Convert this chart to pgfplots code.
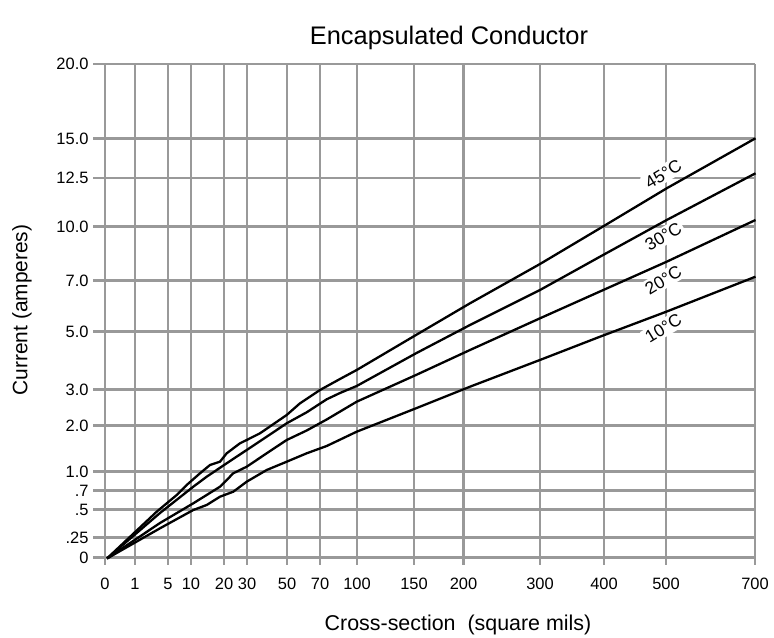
\documentclass[border=0pt]{standalone}
\usepackage{fontspec}
\setmainfont{Liberation Sans}
\usepackage{pgfplots}
\pgfplotsset{compat=1.18}
\definecolor{gridgray}{RGB}{153,153,153}
\begin{document}
\begin{tikzpicture}
\useasboundingbox (0,0) rectangle (774bp,638bp);
\node[font=\fontsize{25.5}{30}\selectfont] at (449bp,600bp) {Encapsulated Conductor};
\node[font=\fontsize{21.5}{26}\selectfont] at (458bp,13bp) {Cross-section\ \ (square mils)};
\node[font=\fontsize{21}{25}\selectfont, rotate=90] at (22bp,328bp) {Current (amperes)};
\begin{axis}[
  at={(93bp,73bp)}, anchor=south west,
  scale only axis, width=662bp, height=501bp,
  xmin=-12, xmax=650, ymin=-7.5, ymax=493.5,
  axis line style={draw=none}, tick style={draw=none},
  major tick length=0pt,
  xmajorgrids, ymajorgrids,
  major grid style={line width=2.4bp, gridgray},
  xtick={0,30,63,86,119,142,182,215,252,309,358.5,435,499,561,650},
  xticklabels={0,1,5,10,20,30,50,70,100,150,200,300,400,500,700},
  ytick={0,20,48,67,86,132,168,226,277,331,379.5,419,493.5},
  yticklabels={0,.25,.5,.7,1.0,2.0,3.0,5.0,7.0,10.0,12.5,15.0,20.0},
  ticklabel style={font=\fontsize{16.5}{19}\selectfont},
  yticklabel style={xshift=-1bp},
  xticklabel style={yshift=-10bp},
  /pgf/number format/assume math mode=true,
  clip=false,
]
\node[font=\fontsize{17.5}{20}\selectfont, rotate=31, fill=white, inner sep=2.5bp] at (axis cs:558.3,383.5) {45°C};
\node[font=\fontsize{17.5}{20}\selectfont, rotate=31, fill=white, inner sep=2.5bp] at (axis cs:558.3,320.8) {30°C};
\node[font=\fontsize{17.5}{20}\selectfont, rotate=31, fill=white, inner sep=2.5bp] at (axis cs:558.3,277.5) {20°C};
\node[font=\fontsize{17.5}{20}\selectfont, rotate=31, fill=white, inner sep=2.5bp] at (axis cs:558.3,229.2) {10°C};
% 45 C
\addplot[black, line width=2.3bp, line join=round] coordinates {
(2,-1) (51.7,45.8) (71.7,62.5) (81.7,72.5) (95,84.2) (105,92.5) (115,95.8) (121.7,104.2)
(135,114.2) (141.7,117.5) (155,124.2) (181.7,142.5) (195,154.2) (215,167.5) (235,178.5)
(251.7,187.5) (311,222.5) (365,254.2) (435,293.5) (495,329.2) (561.7,369.2) (650.5,419.2)};
% 30 C
\addplot[black, line width=2.3bp, line join=round] coordinates {
(2,-1) (55,44.5) (88.3,70.8) (101.7,80.8) (121.7,94.2) (141.7,107.5) (161.7,120.8)
(181.7,134.2) (201.7,145.2) (221.7,158.2) (235,164.5) (251.7,171.5) (311,204.2) (365,232.5)
(435,267.5) (495,300.8) (561.7,337.5) (650.5,384.2)};
% 20 C
\addplot[black, line width=2.3bp, line join=round] coordinates {
(2,-1) (55,34.5) (88.3,54.2) (115,70.8) (128.3,84.2) (141.7,90.8) (161.7,104.2)
(181.7,117.5) (201.7,127) (221.7,138) (251.7,155.8) (311,182.5) (365,207.5)
(435,239.2) (498.3,267.5) (561.7,295.8) (650.5,337.5)};
% 10 C
\addplot[black, line width=2.3bp, line join=round] coordinates {
(2,-1) (55,29.2) (88.3,47.5) (101.7,52.5) (115,60.8) (128.3,65.8) (141.7,75.8)
(161.7,87.5) (181.7,95.8) (201.7,104.2) (221.7,111.5) (251.7,125.8) (311,149.2)
(365,170.8) (436.7,198.2) (495,220.8) (561.3,245.8) (650.5,280.8)};
\end{axis}
\end{tikzpicture}
\end{document}
